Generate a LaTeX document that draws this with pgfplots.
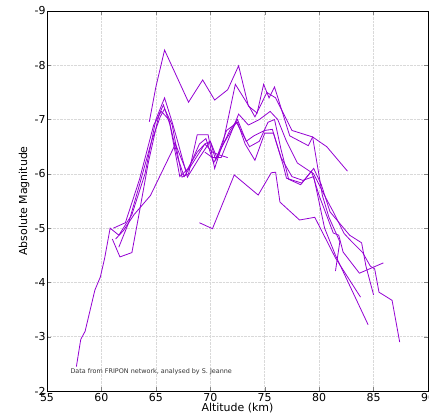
\documentclass[border=0pt]{standalone}
\usepackage{pgfplots}
\pgfplotsset{compat=1.18}
\usepackage{fontspec}
\setmainfont{DejaVu Sans}
\definecolor{meteor}{RGB}{148,0,211}
\begin{document}
\begin{tikzpicture}[x=1bp,y=1bp]
\begin{axis}[
  name=ax,
  scale only axis,
  width=381bp, height=380bp,
  xmin=55, xmax=90, ymin=-9, ymax=-2,
  y dir=reverse,
  xtick={55,60,...,90}, ytick={-9,-8,...,-2},
  tick align=inside,
  major tick length=4bp,
  grid=major,
  grid style={densely dotted, gray!30, line width=0.5pt},
  axis line style={line width=1pt},
  /pgf/number format/assume math mode=true,
  tick label style={font=\fontsize{11}{13}\selectfont},
  yticklabel style={xshift=2bp},
  xticklabel style={yshift=1.5bp},
  label style={font=\fontsize{11}{13}\selectfont},
  xlabel={Altitude (km)},
  ylabel={Absolute Magnitude},
  xlabel style={at={(axis description cs:0.5,-0.0445)}, anchor=center},
  ylabel style={at={(axis description cs:-0.0604,0.5)}, anchor=center},
  cycle list={{meteor, solid, line width=0.8pt, no marks}},
  every axis plot post/.append style={color=meteor, solid, line width=0.8pt, mark=none},
]
% A (top)
\addplot coordinates {(64.4,-6.96)(65.0,-7.6)(65.8,-8.28)(68.0,-7.32)(69.3,-7.73)(70.4,-7.36)(71.6,-7.55)(72.6,-7.99)(73.5,-7.25)(74.3,-7.12)(74.9,-7.65)(75.4,-7.4)(75.9,-7.6)(77.3,-6.7)(79.0,-6.52)(79.4,-6.68)(80.7,-6.5)(82.6,-6.05)};
% B
\addplot coordinates {(61.6,-4.65)(62.5,-5.1)(63.5,-5.8)(64.6,-6.6)(65.4,-7.05)(65.8,-7.2)(66.5,-6.9)(67.4,-5.94)(68.0,-6.0)(68.8,-6.72)(69.8,-6.72)(70.4,-6.1)(71.2,-6.6)(72.3,-7.65)(73.6,-7.23)(74.1,-7.05)(75.2,-7.5)(76.0,-7.4)(77.5,-6.8)(79.4,-6.68)(80.3,-5.6)(80.9,-5.2)(81.9,-4.75)(81.5,-4.21)};
% C (long, from bottom)
\addplot coordinates {(57.7,-2.45)(58.1,-2.95)(58.5,-3.1)(59.4,-3.86)(59.9,-4.1)(60.3,-4.45)(60.8,-5.0)(61.6,-4.87)(62.8,-5.25)(64.0,-6.0)(65.0,-7.0)(65.8,-7.4)(66.5,-6.95)(67.0,-6.6)(67.9,-5.94)(69.0,-6.3)(70.0,-6.6)(70.5,-6.25)(71.5,-6.8)(72.5,-6.95)(73.2,-6.55)(74.1,-6.25)(75.0,-6.75)(75.8,-6.75)(76.7,-6.16)(77.0,-5.92)(78.4,-5.83)(79.5,-6.1)(80.2,-5.8)(81.0,-5.3)(82.8,-4.87)(83.9,-4.73)(84.3,-4.3)(85.0,-3.77)};
% D
\addplot coordinates {(61.0,-4.8)(61.7,-4.47)(62.8,-4.55)(63.4,-5.2)(64.3,-6.2)(65.3,-7.1)(65.7,-7.27)(66.3,-6.9)(67.2,-5.95)(68.0,-6.1)(69.0,-6.55)(69.6,-6.65)(70.3,-6.2)(71.2,-6.55)(72.4,-6.95)(73.6,-6.5)(74.5,-6.6)(75.3,-6.95)(75.9,-7.0)(76.5,-6.45)(77.2,-5.9)(78.3,-5.8)(79.3,-6.05)(80.0,-5.6)(81.3,-4.91)(81.8,-4.87)(82.2,-4.56)(83.7,-4.17)(85.9,-4.36)};
% E (short)
\addplot coordinates {(61.3,-4.8)(62.0,-4.95)(63.0,-5.25)(64.5,-5.6)(66.8,-6.55)(67.8,-6.05)(68.8,-6.4)(69.5,-6.55)(70.2,-6.4)(70.8,-6.35)(71.6,-6.3)};
% F
\addplot coordinates {(61.1,-5.0)(62.2,-5.1)(63.5,-5.9)(64.8,-6.9)(65.5,-7.15)(66.2,-7.0)(67.0,-6.3)(67.6,-5.95)(68.7,-6.3)(69.5,-6.55)(70.0,-6.6)(70.6,-6.3)(71.8,-6.8)(72.5,-7.0)(73.3,-6.6)(74.0,-6.7)(75.0,-6.8)(75.7,-6.82)(76.5,-6.3)(77.5,-5.95)(78.5,-5.88)(79.5,-5.95)(80.5,-5.0)(81.5,-4.5)(84.5,-3.22)};
% G (lower hump)
\addplot coordinates {(69.0,-5.1)(70.2,-4.99)(72.2,-5.98)(74.4,-5.61)(75.6,-6.02)(76.0,-6.03)(76.4,-5.48)(78.2,-5.15)(79.6,-5.2)(81.5,-4.45)(83.8,-3.73)};
% H
\addplot coordinates {(69.5,-6.4)(70.2,-6.3)(71.0,-6.3)(72.0,-6.8)(72.6,-7.1)(73.5,-6.9)(74.5,-7.0)(75.5,-7.15)(76.2,-7.0)(77.0,-6.6)(78.0,-6.2)(79.5,-6.0)(80.5,-5.6)(81.3,-5.3)(82.3,-4.9)(83.0,-4.75)(84.0,-4.55)(84.7,-4.3)(85.1,-4.25)(85.5,-3.82)(86.7,-3.67)(87.4,-2.9)};
\node[anchor=west, font=\fontsize{6.45}{7}\selectfont, text=black!80] at (axis cs:56.84,-2.35) {Data from FRIPON network, analysed by S. Jeanne};
\end{axis}
\pgfresetboundingbox
\path[use as bounding box] ([xshift=-47bp,yshift=-25bp]ax.south west) rectangle ([xshift=1bp,yshift=11bp]ax.north east);
\end{tikzpicture}
\end{document}
